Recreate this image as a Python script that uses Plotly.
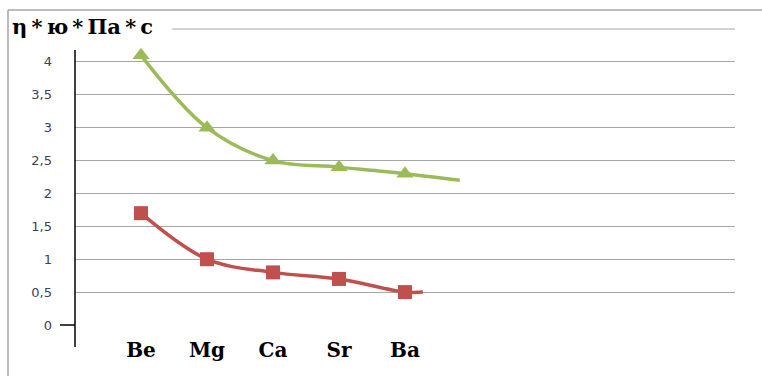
import plotly.graph_objects as go

# Alkaline-earth metals along the category axis
elements = ["Be", "Mg", "Ca", "Sr", "Ba"]
positions = [1, 2, 3, 4, 5]

# Upper series (green, triangles)
green_values = [4.1, 3.0, 2.5, 2.4, 2.3]
green_tail_x = 5.83
green_tail_y = 2.2

# Lower series (red, squares)
red_values = [1.7, 1.0, 0.8, 0.7, 0.5]
red_tail_x = 5.27
red_tail_y = 0.5

y_ticks = [0, 0.5, 1, 1.5, 2, 2.5, 3, 3.5, 4]

GREEN = "#9BBB59"
RED = "#C0504D"
GRID = "#A6A6A6"
SERIF = "DejaVu Serif, serif"

W, H = 762, 376
ML, MR, MT, MB = 75, 27, 29, 51
plot_w = W - ML - MR
plot_h = H - MT - MB


def px_x(px):
    return (px - ML) / plot_w


def px_y(py):
    return 1 - (py - MT) / plot_h


fig = go.Figure()

fig.add_trace(go.Scatter(
    x=positions + [green_tail_x],
    y=green_values + [green_tail_y],
    mode="lines+markers",
    line=dict(color=GREEN, width=3.5, shape="spline", smoothing=1),
    marker=dict(symbol="triangle-up", size=[15] * len(positions) + [0],
                color=GREEN, opacity=1, line=dict(width=0)),
    cliponaxis=False,
    showlegend=False,
))

fig.add_trace(go.Scatter(
    x=positions + [red_tail_x],
    y=red_values + [red_tail_y],
    mode="lines+markers",
    line=dict(color=RED, width=3.5, shape="spline", smoothing=1),
    marker=dict(symbol="square", size=[14] * len(positions) + [0],
                color=RED, opacity=1, line=dict(width=0)),
    cliponaxis=False,
    showlegend=False,
))

shapes = [
    # outer frame: top and left edges
    dict(type="line", xref="paper", yref="paper",
         x0=px_x(8), x1=px_x(762), y0=px_y(10), y1=px_y(10),
         line=dict(color=GRID, width=1.5)),
    dict(type="line", xref="paper", yref="paper",
         x0=px_x(8), x1=px_x(8), y0=px_y(10), y1=px_y(376),
         line=dict(color=GRID, width=1.5)),
    # top gridline (4,5)
    dict(type="line", xref="paper", yref="paper", layer="below",
         x0=0, x1=1, y0=1, y1=1,
         line=dict(color=GRID, width=1)),
    # white box behind the axis title
    dict(type="rect", xref="paper", yref="paper", layer="above",
         x0=px_x(10), x1=px_x(172), y0=px_y(13), y1=px_y(46),
         fillcolor="white", line=dict(width=0)),
    # vertical value axis
    dict(type="line", xref="paper", yref="paper",
         x0=0, x1=0, y0=px_y(50), y1=px_y(347),
         line=dict(color="black", width=1.5)),
    # tick mark at zero
    dict(type="line", xref="paper", yref="paper",
         x0=px_x(60), x1=0, y0=0, y1=0,
         line=dict(color="black", width=1.5)),
]

title_text = "η\u2009*\u2009ю\u2009*\u2009Па\u2009*\u2009с"

annotations = [
    dict(text=f"<b>{title_text}</b>", xref="paper", yref="paper",
         x=px_x(10), y=px_y(26), xanchor="left", yanchor="middle",
         showarrow=False,
         font=dict(family=SERIF, size=21, color="black")),
]

fig.update_layout(
    width=W, height=H,
    margin=dict(l=ML, r=MR, t=MT, b=MB),
    paper_bgcolor="white",
    plot_bgcolor="white",
    separators=", ",
    shapes=shapes,
    annotations=annotations,
    xaxis=dict(
        range=[0, 10],
        tickvals=positions,
        ticktext=[f"<b>{e}</b>" for e in elements],
        tickfont=dict(family=SERIF, size=20, color="black"),
        showgrid=False, zeroline=False, showline=False,
        ticks="", ticklabelstandoff=11,
    ),
    yaxis=dict(
        range=[0, 4.5],
        tickvals=y_ticks,
        ticktext=[f"{v:g}".replace(".", ",") for v in y_ticks],
        tickfont=dict(family="DejaVu Sans", size=13, color="#404058"),
        showgrid=True, gridcolor=GRID, gridwidth=1,
        zeroline=False, showline=False,
        ticks="", ticklabelstandoff=22,
    ),
)

fig.write_html("out.html")
